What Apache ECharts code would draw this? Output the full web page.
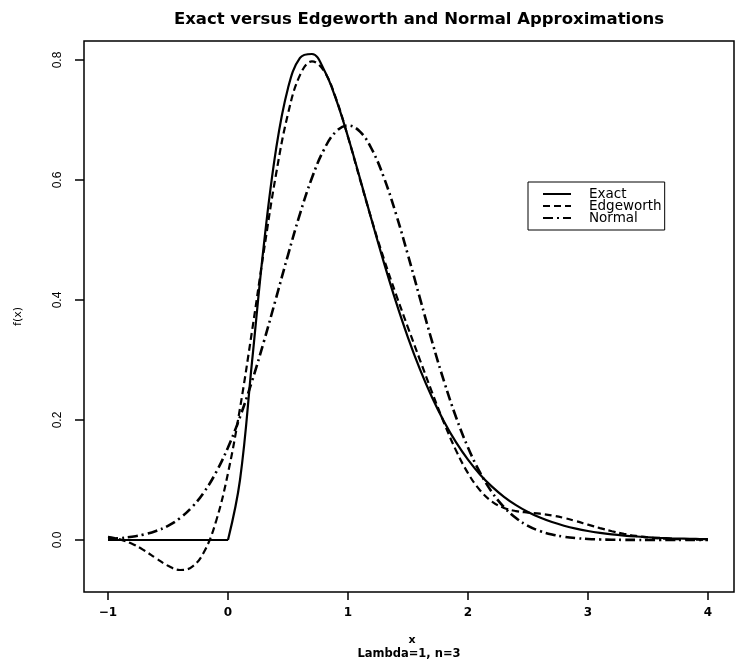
<!DOCTYPE html>
<html><head><meta charset="utf-8">
<script src="https://cdn.jsdelivr.net/npm/echarts@6/dist/echarts.min.js"></script>
<style>html,body{margin:0;padding:0;background:#fff}#c{width:737px;height:660px}</style>
</head><body><div id="c"></div>
<script>
const xValues = [-1.0,-0.9,-0.8,-0.7,-0.6,-0.5,-0.4,-0.3,-0.2,-0.1,
  0.0,0.1,0.2,0.3,0.4,0.5,0.6,0.7,0.8,0.9,
  1.0,1.1,1.2,1.3,1.4,1.5,1.6,1.7,1.8,1.9,
  2.0,2.1,2.2,2.3,2.4,2.5,2.6,2.7,2.8,2.9,
  3.0,3.1,3.2,3.3,3.4,3.5,3.6,3.7,3.8,3.9,4.0];
const exactValues = [0,0,0,0,0,0,0,0,0,0,
  0,0.1000,0.2964,0.4940,0.6506,0.7531,0.8034,0.8100,0.7838,0.7349,
  0.6721,0.6025,0.5312,0.4618,0.3968,0.3374,0.2844,0.2379,0.1976,0.1631,
  0.1339,0.1093,0.0889,0.0720,0.0581,0.0467,0.0374,0.0299,0.0238,0.0189,
  0.0150,0.0119,0.0094,0.0074,0.0058,0.0046,0.0036,0.0028,0.0022,0.0017,0.0013];
const edgeworthValues = [0.0051,0.0010,-0.0063,-0.0172,-0.0304,-0.0430,-0.0500,-0.0449,-0.0201,0.0309,
  0.1114,0.2195,0.3478,0.4830,0.6091,0.7103,0.7748,0.7978,0.7818,0.7359,
  0.6718,0.6011,0.5320,0.4681,0.4095,0.3541,0.2999,0.2465,0.1954,0.1494,
  0.1114,0.0829,0.0641,0.0534,0.0482,0.0457,0.0438,0.0410,0.0368,0.0315,
  0.0256,0.0198,0.0146,0.0102,0.0068,0.0043,0.0027,0.0016,0.0009,0.0005,0.0002];
const normalValues = [0.0017,0.0031,0.0054,0.0091,0.0149,0.0236,0.0365,0.0548,0.0797,0.1125,
  0.1542,0.2050,0.2646,0.3313,0.4027,0.4749,0.5436,0.6037,0.6508,0.6807,
  0.6910,0.6807,0.6508,0.6037,0.5436,0.4749,0.4027,0.3313,0.2646,0.2050,
  0.1542,0.1125,0.0797,0.0548,0.0365,0.0236,0.0149,0.0091,0.0054,0.0031,
  0.0017,0.0009,0.0005,0.0002,0.0001,0,0,0,0,0,0];
const xTicks = [-1,0,1,2,3,4];
const yTicks = [0.0,0.2,0.4,0.6,0.8];
const seriesNames = ['Exact','Edgeworth','Normal'];
const titleText = 'Exact versus Edgeworth and Normal Approximations';
const xName = 'x';
const subName = 'Lambda=1, n=3';
const yName = 'f(x)';

function pairs(vals, from, to) {
  const out = [];
  for (let i = from; i <= to; i++) out.push([xValues[i], vals[i]]);
  return out;
}
const zeroIdx = xValues.indexOf(0);
const last = xValues.length - 1;

const chart = echarts.init(document.getElementById('c'), null, {renderer: 'canvas'});
const lineBase = {type: 'line', showSymbol: false, symbol: 'none', animation: false, silent: true};
chart.setOption({
  backgroundColor: '#fff',
  animation: false,
  title: [
    {text: titleText, left: 414, top: 6, textAlign: 'center',
     textStyle: {fontFamily: 'DejaVu Sans', fontWeight: 'bold', fontSize: 16.5, color: '#000'}},
    {text: xName, left: 407, top: 630, textAlign: 'center',
     textStyle: {fontFamily: 'DejaVu Sans', fontWeight: 'bold', fontSize: 11, color: '#000'}},
    {text: subName, left: 404, top: 643, textAlign: 'center',
     textStyle: {fontFamily: 'DejaVu Sans', fontWeight: 'bold', fontSize: 11.5, color: '#000'}}
  ],
  legend: {
    orient: 'vertical', left: 528, top: 182,
    padding: [5, 3, 5, 14], itemGap: -2, itemWidth: 28, itemHeight: 12,
    borderColor: '#000', borderWidth: 1, borderRadius: 0,
    data: seriesNames,
    itemStyle: {opacity: 0},
    textStyle: {fontFamily: 'DejaVu Sans', fontSize: 13.5, color: '#000', lineHeight: 12, padding: [0,0,0,13]}
  },
  grid: {left: 84, right: 3, top: 41, bottom: 68, show: true, borderColor: '#000', borderWidth: 1.5, backgroundColor: 'transparent'},
  xAxis: {
    type: 'value', min: -1.2, max: 4.217,
    axisLine: {show: false, onZero: false},
    splitLine: {show: false},
    axisTick: {show: true, length: 8, customValues: xTicks, lineStyle: {color: '#000', width: 1.5}},
    axisLabel: {customValues: xTicks, margin: 15, color: '#000', fontFamily: 'DejaVu Sans', fontWeight: 'bold', fontSize: 12,
      formatter: v => String(v).replace('-', '\u2212')}
  },
  yAxis: {
    type: 'value', min: -0.0867, max: 0.8317,
    name: yName, nameLocation: 'middle', nameRotate: 90, nameGap: 60,
    nameTextStyle: {fontFamily: 'DejaVu Sans', fontSize: 11, color: '#000'},
    axisLine: {show: false, onZero: false},
    splitLine: {show: false},
    axisTick: {show: true, length: 9, customValues: yTicks, lineStyle: {color: '#000', width: 1.5}},
    axisLabel: {customValues: yTicks, rotate: 90, margin: 20, color: '#000', fontFamily: 'Liberation Sans', fontSize: 12,
      formatter: v => v.toFixed(1)}
  },
  series: [
    Object.assign({}, lineBase, {name: seriesNames[0], data: pairs(exactValues, 0, zeroIdx), smooth: false,
      lineStyle: {color: '#000', width: 2.2, type: 'solid'}, itemStyle: {color: '#000'}}),
    Object.assign({}, lineBase, {name: seriesNames[0], data: pairs(exactValues, zeroIdx, last), smooth: 0.4,
      lineStyle: {color: '#000', width: 2.2, type: 'solid'}, itemStyle: {color: '#000'}}),
    Object.assign({}, lineBase, {name: seriesNames[1], data: pairs(edgeworthValues, 0, last), smooth: 0.4,
      lineStyle: {color: '#000', width: 2.2, type: [7, 4]}, itemStyle: {color: '#000'}}),
    Object.assign({}, lineBase, {name: seriesNames[2], data: pairs(normalValues, 0, last), smooth: 0.4,
      lineStyle: {color: '#000', width: 2.6, type: [10, 4, 2, 4]}, itemStyle: {color: '#000'}})
  ]
});
</script></body></html>
